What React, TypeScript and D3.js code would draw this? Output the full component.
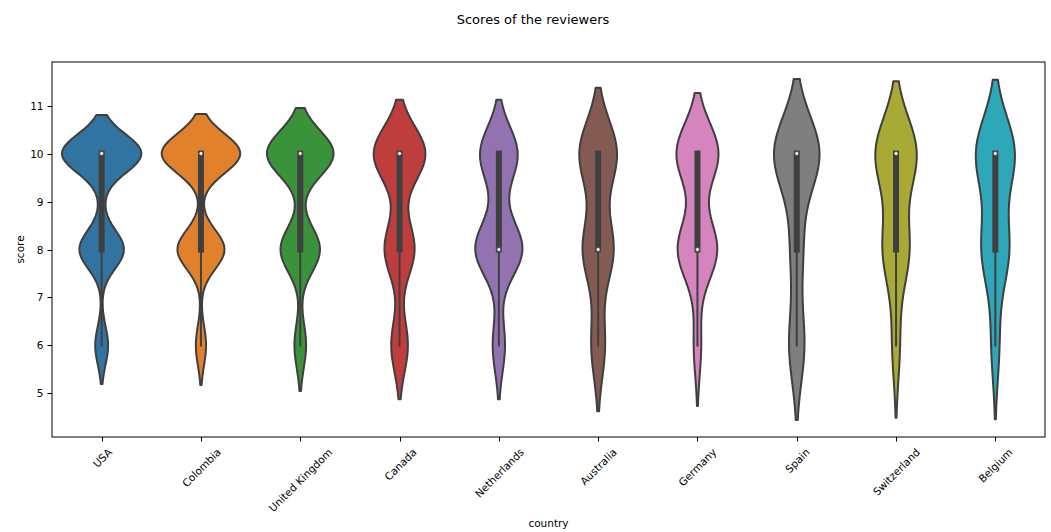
import { useEffect, useRef } from "react";
import * as d3 from "d3";

const countries = [
  "USA",
  "Colombia",
  "United Kingdom",
  "Canada",
  "Netherlands",
  "Australia",
  "Germany",
  "Spain",
  "Switzerland",
  "Belgium",
];

// number of reviews given each score, one entry per country (same order as above)
const count6 = [35, 21, 18, 23, 9, 8, 3, 9, 2, 2];
const count8 = [121, 97, 61, 41, 34, 18, 16, 7, 7, 7];
const count9 = [7, 0, 0, 3, 3, 0, 0, 0, 0, 0];
const count10 = [216, 162, 103, 71, 27, 22, 17, 27, 11, 10];

const palette = [
  "#3274a1",
  "#e1812c",
  "#3a923a",
  "#c03d3e",
  "#9372b2",
  "#845b53",
  "#d684bd",
  "#7f7f7f",
  "#a9aa35",
  "#2ea8b8",
];

const yTicks = [5, 6, 7, 8, 9, 10, 11];

const W = 1051;
const H = 532;
const margin = { left: 52, right: 1045, top: 62, bottom: 437 };
const gray = "#3f3f3f";
const font = "'DejaVu Sans', sans-serif";

function scoresFor(i: number) {
  const out: number[] = [];
  const levels: [number, number][] = [
    [6, count6[i]],
    [8, count8[i]],
    [9, count9[i]],
    [10, count10[i]],
  ];
  levels.forEach(([s, c]) => {
    for (let k = 0; k < c; k++) out.push(s);
  });
  return out.sort((a, b) => a - b);
}

// gaussian kde, scott bandwidth, cut = 2, 100 grid points (seaborn defaults)
function violinStats(values: number[]) {
  const n = values.length;
  const bw = (d3.deviation(values) as number) * Math.pow(n, -0.2);
  const lo = (d3.min(values) as number) - 2 * bw;
  const hi = (d3.max(values) as number) + 2 * bw;
  const support = d3.range(100).map((k) => lo + ((hi - lo) * k) / 99);
  const norm = 1 / (bw * Math.sqrt(2 * Math.PI));
  const density = support.map(
    (y) => (d3.mean(values, (v) => Math.exp(-0.5 * ((y - v) / bw) ** 2)) as number) * norm
  );
  const q25 = d3.quantileSorted(values, 0.25) as number;
  const q50 = d3.quantileSorted(values, 0.5) as number;
  const q75 = d3.quantileSorted(values, 0.75) as number;
  const lim = 1.5 * (q75 - q25);
  const h1 = d3.min(values.filter((v) => v >= q25 - lim)) as number;
  const h2 = d3.max(values.filter((v) => v <= q75 + lim)) as number;
  return { support, density, q25, q50, q75, h1, h2, lo, hi };
}

export default function App() {
  const svgRef = useRef<SVGSVGElement>(null);

  useEffect(() => {
    if (!svgRef.current) return;
    const svg = d3.select(svgRef.current);
    svg.selectAll("*").remove();

    const stats = countries.map((_, i) => violinStats(scoresFor(i)));
    const maxDensity = d3.max(stats, (s) => d3.max(s.density) as number) as number;
    const lo = d3.min(stats, (s) => s.lo) as number;
    const hi = d3.max(stats, (s) => s.hi) as number;
    const pad = (hi - lo) * 0.05;

    const x = d3
      .scaleBand<string>()
      .domain(countries)
      .range([margin.left, margin.right])
      .padding(0);
    const y = d3
      .scaleLinear()
      .domain([lo - pad, hi + pad])
      .range([margin.bottom, margin.top]);
    const half = x.bandwidth() * 0.4;

    // title
    svg
      .append("text")
      .attr("x", 533)
      .attr("y", 24)
      .attr("text-anchor", "middle")
      .attr("font-family", font)
      .attr("font-size", 13)
      .attr("fill", "#000")
      .text("Scores of the reviewers");

    // violins
    const g = svg.append("g");
    stats.forEach((s, i) => {
      const cx = (x(countries[i]) as number) + x.bandwidth() / 2;
      const pts = s.support.map((v, k) => ({ v, w: (s.density[k] / maxDensity) * half }));
      const area = d3
        .area<{ v: number; w: number }>()
        .y((d) => y(d.v))
        .x0((d) => cx - d.w)
        .x1((d) => cx + d.w);
      g.append("path")
        .attr("d", area(pts) as string)
        .attr("fill", palette[i])
        .attr("stroke", gray)
        .attr("stroke-width", 2)
        .attr("stroke-linejoin", "round");

      g.append("line")
        .attr("x1", cx)
        .attr("x2", cx)
        .attr("y1", y(s.h1))
        .attr("y2", y(s.h2))
        .attr("stroke", gray)
        .attr("stroke-width", 2)
        .attr("stroke-linecap", "square");
      g.append("line")
        .attr("x1", cx)
        .attr("x2", cx)
        .attr("y1", y(s.q25))
        .attr("y2", y(s.q75))
        .attr("stroke", gray)
        .attr("stroke-width", 6)
        .attr("stroke-linecap", "square");
      g.append("circle")
        .attr("cx", cx)
        .attr("cy", y(s.q50))
        .attr("r", 2)
        .attr("fill", "#fff")
        .attr("stroke", gray)
        .attr("stroke-width", 0.8);
    });

    // frame
    svg
      .append("rect")
      .attr("x", margin.left)
      .attr("y", margin.top)
      .attr("width", margin.right - margin.left)
      .attr("height", margin.bottom - margin.top)
      .attr("fill", "none")
      .attr("stroke", "#000")
      .attr("stroke-width", 1);

    // y axis
    const yAxis = svg.append("g");
    yTicks.forEach((t) => {
      const ty = Math.round(y(t)) + 0.5;
      yAxis
        .append("line")
        .attr("x1", margin.left - 4.5)
        .attr("x2", margin.left)
        .attr("y1", ty)
        .attr("y2", ty)
        .attr("stroke", "#000")
        .attr("stroke-width", 1);
      yAxis
        .append("text")
        .attr("x", margin.left - 8.5)
        .attr("y", ty)
        .attr("dy", "0.35em")
        .attr("text-anchor", "end")
        .attr("font-family", font)
        .attr("font-size", 10.5)
        .attr("fill", "#000")
        .text(t);
    });
    svg
      .append("text")
      .attr("transform", `translate(24,${(margin.top + margin.bottom) / 2}) rotate(-90)`)
      .attr("text-anchor", "middle")
      .attr("font-family", font)
      .attr("font-size", 10.5)
      .attr("fill", "#000")
      .text("score");

    // x axis
    const xAxis = svg.append("g");
    const fs = 10.5;
    countries.forEach((c) => {
      const cx = Math.round((x(c) as number) + x.bandwidth() / 2) + 0.5;
      xAxis
        .append("line")
        .attr("x1", cx)
        .attr("x2", cx)
        .attr("y1", margin.bottom)
        .attr("y2", margin.bottom + 4.5)
        .attr("stroke", "#000")
        .attr("stroke-width", 1);
      const label = xAxis
        .append("text")
        .attr("text-anchor", "end")
        .attr("dy", "0.35em")
        .attr("font-family", font)
        .attr("font-size", fs)
        .attr("fill", "#000")
        .text(c);
      const w = (label.node() as SVGTextElement).getComputedTextLength();
      const h = fs * 1.16;
      const ax = cx + w / (2 * Math.SQRT2);
      const ay = margin.bottom + 9 + h / (2 * Math.SQRT2);
      label.attr("transform", `translate(${ax},${ay}) rotate(-45)`);
    });
    svg
      .append("text")
      .attr("x", (margin.left + margin.right) / 2)
      .attr("y", 527)
      .attr("text-anchor", "middle")
      .attr("font-family", font)
      .attr("font-size", 10.5)
      .attr("fill", "#000")
      .text("country");
  }, []);

  return (
    <div style={{ position: "absolute", left: 0, top: 0, width: W, height: H, background: "#fff" }}>
      <svg ref={svgRef} width={W} height={H} style={{ display: "block" }} />
    </div>
  );
}
